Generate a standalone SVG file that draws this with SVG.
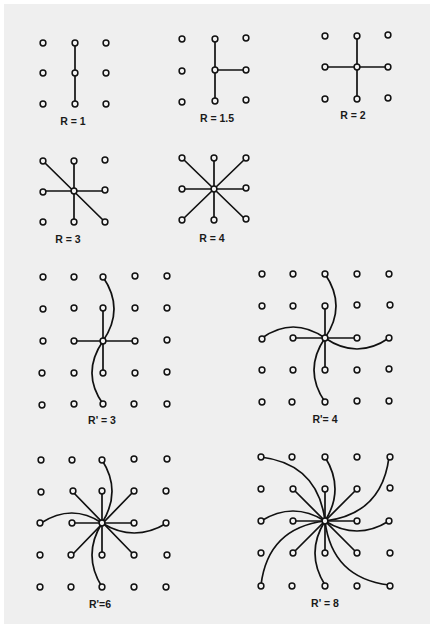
<svg xmlns="http://www.w3.org/2000/svg" width="430" height="624" viewBox="0 0 430 624">
<style>
.bg{fill:#efefef}
.c line,.c path{stroke:#111;stroke-width:1.7;fill:none;stroke-linecap:round}
.d circle{fill:#f4f4f4;stroke:#111;stroke-width:1.5}
.lbl{font-family:"Liberation Sans",Arial,sans-serif;font-size:10.5px;font-weight:bold;fill:#1a1a1a;text-anchor:middle}
</style>
<rect x="0" y="0" width="430" height="624" fill="#ffffff"/>
<rect class="bg" x="4" y="4" width="426" height="620"/>

<g id="panel-r1">
<g class="c"><line x1="75" y1="43" x2="75" y2="104"/></g>
<g class="d">
<circle cx="43" cy="43" r="2.9"/><circle cx="75" cy="43" r="2.9"/><circle cx="106" cy="43" r="2.9"/>
<circle cx="43" cy="73" r="2.9"/><circle cx="75" cy="73" r="2.9"/><circle cx="106" cy="73" r="2.9"/>
<circle cx="43" cy="104" r="2.9"/><circle cx="75" cy="104" r="2.9"/><circle cx="106" cy="104" r="2.9"/>
</g>
<text class="lbl" x="73" y="125">R = 1</text>
</g>

<g id="panel-r15">
<g class="c"><line x1="215" y1="39" x2="215" y2="101"/><line x1="215" y1="70" x2="246" y2="70"/></g>
<g class="d">
<circle cx="182" cy="39" r="2.9"/><circle cx="215" cy="39" r="2.9"/><circle cx="246" cy="38" r="2.9"/>
<circle cx="182" cy="71" r="2.9"/><circle cx="215" cy="70" r="2.9"/><circle cx="246" cy="70" r="2.9"/>
<circle cx="182" cy="102" r="2.9"/><circle cx="215" cy="101" r="2.9"/><circle cx="246" cy="100" r="2.9"/>
</g>
<text class="lbl" x="217" y="122">R = 1.5</text>
</g>

<g id="panel-r2">
<g class="c"><line x1="357" y1="36" x2="357" y2="99"/><line x1="325" y1="67" x2="388" y2="67"/></g>
<g class="d">
<circle cx="325" cy="36" r="2.9"/><circle cx="357" cy="36" r="2.9"/><circle cx="388" cy="35" r="2.9"/>
<circle cx="325" cy="67" r="2.9"/><circle cx="357" cy="67" r="2.9"/><circle cx="388" cy="67" r="2.9"/>
<circle cx="325" cy="99" r="2.9"/><circle cx="357" cy="99" r="2.9"/><circle cx="388" cy="98" r="2.9"/>
</g>
<text class="lbl" x="353" y="119">R = 2</text>
</g>

<g id="panel-r3">
<g class="c">
<line x1="43" y1="161" x2="105" y2="222"/><line x1="74" y1="161" x2="74" y2="222"/><line x1="43" y1="191" x2="105" y2="191"/>
</g>
<g class="d">
<circle cx="43" cy="161" r="2.9"/><circle cx="74" cy="161" r="2.9"/><circle cx="105" cy="160" r="2.9"/>
<circle cx="43" cy="192" r="2.9"/><circle cx="74" cy="191" r="2.9"/><circle cx="105" cy="190" r="2.9"/>
<circle cx="43" cy="222" r="2.9"/><circle cx="74" cy="222" r="2.9"/><circle cx="105" cy="222" r="2.9"/>
</g>
<text class="lbl" x="68" y="243">R = 3</text>
</g>

<g id="panel-r4">
<g class="c">
<line x1="182" y1="158" x2="246" y2="220"/><line x1="246" y1="158" x2="182" y2="220"/><line x1="214" y1="158" x2="214" y2="220"/><line x1="182" y1="189" x2="246" y2="189"/>
</g>
<g class="d">
<circle cx="182" cy="158" r="2.9"/><circle cx="214" cy="158" r="2.9"/><circle cx="246" cy="158" r="2.9"/>
<circle cx="182" cy="189" r="2.9"/><circle cx="214" cy="189" r="2.9"/><circle cx="246" cy="188" r="2.9"/>
<circle cx="182" cy="220" r="2.9"/><circle cx="214" cy="220" r="2.9"/><circle cx="246" cy="219" r="2.9"/>
</g>
<text class="lbl" x="212" y="242">R = 4</text>
</g>

<g id="panel-rp3">
<g class="c">
<line x1="103" y1="308" x2="103" y2="373"/><line x1="74" y1="341" x2="135" y2="341"/>
<path d="M103,277 Q125,309 103,341"/><path d="M103,404 Q81,373 103,341"/>
</g>
<g class="d">
<circle cx="43" cy="277" r="2.9"/><circle cx="74" cy="277" r="2.9"/><circle cx="103" cy="277" r="2.9"/><circle cx="135" cy="276" r="2.9"/><circle cx="167" cy="276" r="2.9"/>
<circle cx="43" cy="309" r="2.9"/><circle cx="74" cy="308" r="2.9"/><circle cx="103" cy="308" r="2.9"/><circle cx="135" cy="308" r="2.9"/><circle cx="167" cy="308" r="2.9"/>
<circle cx="43" cy="341" r="2.9"/><circle cx="74" cy="341" r="2.9"/><circle cx="103" cy="341" r="2.9"/><circle cx="135" cy="341" r="2.9"/><circle cx="167" cy="340" r="2.9"/>
<circle cx="42" cy="373" r="2.9"/><circle cx="74" cy="373" r="2.9"/><circle cx="103" cy="373" r="2.9"/><circle cx="135" cy="373" r="2.9"/><circle cx="167" cy="372" r="2.9"/>
<circle cx="42" cy="405" r="2.9"/><circle cx="74" cy="404" r="2.9"/><circle cx="103" cy="404" r="2.9"/><circle cx="134" cy="404" r="2.9"/><circle cx="167" cy="404" r="2.9"/>
</g>
<text class="lbl" x="102" y="424">R' = 3</text>
</g>

<g id="panel-rp4">
<g class="c">
<line x1="325" y1="306" x2="325" y2="370"/><line x1="293" y1="338" x2="357" y2="338"/>
<path d="M325,274 Q347,306 325,338"/><path d="M389,338 Q357,360 325,338"/><path d="M325,402 Q303,370 325,338"/><path d="M262,338 Q293,316 325,338"/>
</g>
<g class="d">
<circle cx="262" cy="274" r="2.9"/><circle cx="293" cy="274" r="2.9"/><circle cx="325" cy="274" r="2.9"/><circle cx="357" cy="274" r="2.9"/><circle cx="389" cy="274" r="2.9"/>
<circle cx="262" cy="306" r="2.9"/><circle cx="293" cy="306" r="2.9"/><circle cx="325" cy="306" r="2.9"/><circle cx="357" cy="305" r="2.9"/><circle cx="390" cy="305" r="2.9"/>
<circle cx="262" cy="339" r="2.9"/><circle cx="293" cy="338" r="2.9"/><circle cx="325" cy="338" r="2.9"/><circle cx="357" cy="338" r="2.9"/><circle cx="389" cy="338" r="2.9"/>
<circle cx="262" cy="370" r="2.9"/><circle cx="293" cy="370" r="2.9"/><circle cx="325" cy="370" r="2.9"/><circle cx="357" cy="370" r="2.9"/><circle cx="389" cy="369" r="2.9"/>
<circle cx="262" cy="402" r="2.9"/><circle cx="292" cy="402" r="2.9"/><circle cx="325" cy="402" r="2.9"/><circle cx="357" cy="401" r="2.9"/><circle cx="389" cy="401" r="2.9"/>
</g>
<text class="lbl" x="325" y="423">R'= 4</text>
</g>

<g id="panel-rp6">
<g class="c">
<line x1="102" y1="491" x2="102" y2="555"/><line x1="72" y1="523" x2="134" y2="523"/>
<line x1="72" y1="491" x2="134" y2="555"/><line x1="134" y1="491" x2="72" y2="555"/>
<path d="M102,460 Q122,491 102,523"/><path d="M167,523 Q134,543 102,523"/><path d="M102,587 Q82,555 102,523"/><path d="M41,523 Q72,503 102,523"/>
</g>
<g class="d">
<circle cx="41" cy="460" r="2.9"/><circle cx="72" cy="460" r="2.9"/><circle cx="102" cy="460" r="2.9"/><circle cx="134" cy="459" r="2.9"/><circle cx="167" cy="459" r="2.9"/>
<circle cx="41" cy="492" r="2.9"/><circle cx="73" cy="491" r="2.9"/><circle cx="102" cy="491" r="2.9"/><circle cx="134" cy="491" r="2.9"/><circle cx="166" cy="491" r="2.9"/>
<circle cx="40" cy="523" r="2.9"/><circle cx="72" cy="523" r="2.9"/><circle cx="102" cy="523" r="2.9"/><circle cx="134" cy="523" r="2.9"/><circle cx="166" cy="523" r="2.9"/>
<circle cx="40" cy="555" r="2.9"/><circle cx="71" cy="555" r="2.9"/><circle cx="102" cy="555" r="2.9"/><circle cx="134" cy="555" r="2.9"/><circle cx="167" cy="555" r="2.9"/>
<circle cx="40" cy="587" r="2.9"/><circle cx="71" cy="587" r="2.9"/><circle cx="102" cy="587" r="2.9"/><circle cx="134" cy="587" r="2.9"/><circle cx="166" cy="587" r="2.9"/>
</g>
<text class="lbl" x="100" y="608">R'=6</text>
</g>

<g id="panel-rp8">
<g class="c">
<line x1="325" y1="489" x2="325" y2="553"/><line x1="293" y1="521" x2="357" y2="521"/>
<line x1="293" y1="489" x2="357" y2="553"/><line x1="357" y1="489" x2="293" y2="553"/>
<path d="M325,457 Q345,489 325,521"/><path d="M389,521 Q357,541 325,521"/><path d="M325,585 Q305,553 325,521"/><path d="M261,521 Q293,501 325,521"/>
<path d="M261,457 Q318,464 325,521"/><path d="M389,457 Q382,514 325,521"/><path d="M389,585 Q332,578 325,521"/><path d="M261,585 Q268,528 325,521"/>
</g>
<g class="d">
<circle cx="261" cy="457" r="2.9"/><circle cx="292" cy="457" r="2.9"/><circle cx="325" cy="457" r="2.9"/><circle cx="357" cy="457" r="2.9"/><circle cx="390" cy="457" r="2.9"/>
<circle cx="261" cy="489" r="2.9"/><circle cx="293" cy="489" r="2.9"/><circle cx="325" cy="489" r="2.9"/><circle cx="357" cy="489" r="2.9"/><circle cx="390" cy="488" r="2.9"/>
<circle cx="261" cy="521" r="2.9"/><circle cx="293" cy="521" r="2.9"/><circle cx="325" cy="521" r="2.9"/><circle cx="357" cy="521" r="2.9"/><circle cx="389" cy="521" r="2.9"/>
<circle cx="261" cy="553" r="2.9"/><circle cx="293" cy="553" r="2.9"/><circle cx="325" cy="553" r="2.9"/><circle cx="357" cy="553" r="2.9"/><circle cx="390" cy="553" r="2.9"/>
<circle cx="261" cy="586" r="2.9"/><circle cx="292" cy="586" r="2.9"/><circle cx="325" cy="586" r="2.9"/><circle cx="357" cy="586" r="2.9"/><circle cx="390" cy="586" r="2.9"/>
</g>
<text class="lbl" x="325" y="607">R' = 8</text>
</g>
</svg>
